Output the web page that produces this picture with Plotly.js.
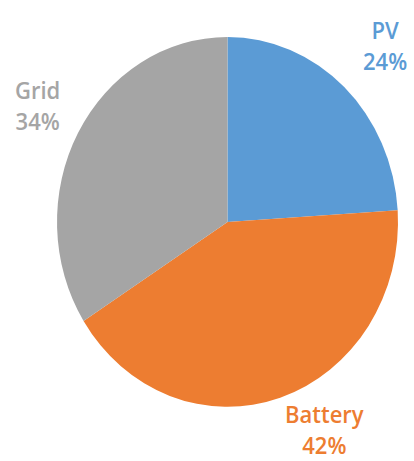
<!DOCTYPE html>
<html>
<head>
<meta charset="utf-8">
<script src="https://cdn.plot.ly/plotly-3.0.1.min.js"></script>
<style>
html,body{margin:0;padding:0;background:#fff;overflow:hidden;}
#wrap{width:414px;height:461px;overflow:hidden;}
#chart{width:414px;height:425px;transform:scaleY(1.0847);transform-origin:0 0;}
</style>
</head>
<body>
<div id="wrap"><div id="chart"></div></div>
<script>
const labels = ["PV", "Battery", "Grid"];
const values = [24, 42, 34];
const colors = ["#5B9BD5", "#ED7D31", "#A5A5A5"];
const labelPos = [[0.930, 0.903], [0.785, 0.070], [0.091, 0.774]];

const trace = {
  type: "pie",
  labels: labels,
  values: values,
  sort: false,
  direction: "clockwise",
  rotation: 0,
  textinfo: "none",
  hoverinfo: "label+percent",
  marker: {colors: colors, line: {width: 0}},
  domain: {x: [0.1377, 0.9614], y: [0.1174, 0.9198]},
  showlegend: false
};

const total = values.reduce((a, b) => a + b, 0);
const annotations = labels.map((l, i) => ({
  text: l + "<br>" + Math.round(values[i] / total * 100) + "%",
  x: labelPos[i][0], y: labelPos[i][1],
  xref: "paper", yref: "paper",
  xanchor: "center", yanchor: "middle",
  showarrow: false,
  align: "center",
  font: {family: "Open Sans, sans-serif", size: 22, weight: 600, color: colors[i]}
}));

Plotly.newPlot("chart", [trace], {
  width: 414, height: 425,
  margin: {l: 0, r: 0, t: 0, b: 0},
  paper_bgcolor: "#fff",
  annotations: annotations
}, {displayModeBar: false, staticPlot: true});
</script>
</body>
</html>
